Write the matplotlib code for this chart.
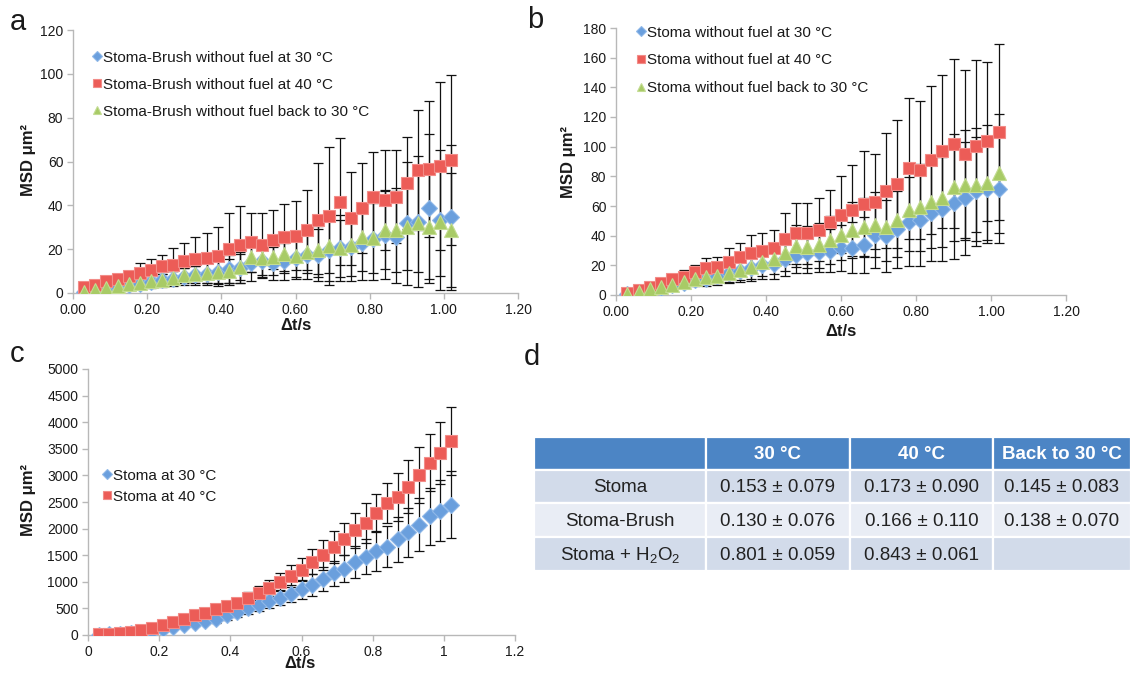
import matplotlib
matplotlib.use('Agg')
import matplotlib.pyplot as plt
from matplotlib.patches import Rectangle

plt.rcParams['font.family'] = ['Liberation Sans', 'DejaVu Sans']
plt.rcParams['mathtext.default'] = 'regular'

# ---------------- data ----------------
dt = [0.03, 0.06, 0.09, 0.12, 0.15, 0.18, 0.21, 0.24, 0.27, 0.30, 0.33, 0.36,
      0.39, 0.42, 0.45, 0.48, 0.51, 0.54, 0.57, 0.60, 0.63, 0.66, 0.69, 0.72,
      0.75, 0.78, 0.81, 0.84, 0.87, 0.90, 0.93, 0.96, 0.99, 1.02]

# panel a: Stoma-Brush
a_30 = [0.5, 1.2, 2.0, 2.8, 3.5, 4.3, 5.0, 5.8, 6.5, 7.5, 8.0, 8.6, 9.5, 11.0,
        11.5, 13.8, 14.5, 13.5, 14.5, 16.0, 17.4, 17.4, 19.6, 20.4, 21.0, 23.0,
        24.5, 26.5, 25.7, 31.8, 32.6, 38.7, 33.3, 34.5]
a_40 = [2.7, 3.8, 5.3, 6.4, 7.6, 9.1, 10.3, 12.2, 12.9, 14.4, 15.5, 16.0, 16.7,
        20.0, 22.0, 23.1, 22.0, 24.3, 25.5, 26.2, 28.8, 33.3, 35.2, 41.7, 34.1,
        38.7, 43.7, 42.5, 44.0, 50.4, 56.2, 56.5, 58.1, 60.7]
a_back = [0.5, 1.5, 2.5, 3.0, 4.0, 4.5, 5.5, 6.0, 7.0, 8.0, 8.5, 9.0, 9.5, 10.0,
          12.0, 16.5, 16.0, 16.5, 18.0, 16.7, 18.9, 19.6, 21.5, 20.4, 21.9, 25.7,
          25.0, 28.8, 28.8, 30.3, 31.8, 30.3, 32.6, 28.8]
a_30_sd = [0.3, 0.6, 1.0, 1.4, 1.8, 2.2, 2.6, 3.0, 3.5, 4.0, 4.5, 5.0, 5.5, 6.5,
           7.0, 8.5, 7.5, 7.5, 8.5, 9.5, 11.0, 12.0, 14.0, 15.0, 15.5, 17.0,
           18.5, 20.0, 21.0, 28.0, 30.0, 34.0, 32.0, 33.0]
a_40_sd = [0.6, 1.0, 1.5, 2.0, 2.4, 4.6, 5.2, 5.3, 7.6, 8.4, 10.0, 11.4, 13.3,
           16.5, 17.5, 13.4, 14.5, 13.4, 15.3, 15.6, 18.2, 26.0, 31.6, 29.0,
           21.3, 20.5, 20.8, 22.8, 21.3, 21.0, 27.4, 31.0, 38.4, 38.8]
a_back_sd = [0.3, 0.6, 1.0, 1.3, 1.7, 2.0, 2.4, 2.8, 3.2, 3.6, 4.0, 4.5, 5.0,
             5.5, 6.0, 7.0, 8.0, 8.5, 9.0, 9.5, 10.0, 11.0, 12.5, 13.0, 14.0,
             15.5, 16.0, 18.0, 19.0, 20.0, 22.0, 24.0, 25.0, 26.0]

# panel b: Stoma
b_30 = [0.8, 2.0, 3.5, 5.0, 6.5, 8.0, 10.0, 11.0, 12.5, 14.5, 16.5, 18.0, 20.0,
        21.0, 24.5, 27.0, 28.0, 29.0, 30.0, 31.5, 32.0, 33.7, 40.5, 39.8, 44.3,
        49.5, 50.6, 55.6, 57.8, 62.3, 65.3, 69.8, 71.3, 71.3]
b_40 = [1.6, 3.4, 5.6, 7.9, 10.6, 12.4, 15.8, 18.0, 19.0, 22.5, 25.4, 28.0, 30.0,
        31.5, 38.0, 41.6, 41.6, 44.0, 49.5, 54.0, 57.0, 61.4, 63.0, 70.4, 74.7,
        85.5, 84.0, 91.0, 96.8, 102.0, 95.0, 100.6, 103.5, 110.0]
b_back = [0.8, 2.3, 4.0, 5.5, 7.0, 8.5, 10.5, 12.0, 13.0, 15.0, 17.0, 19.0, 22.0,
          24.0, 28.5, 33.0, 32.5, 33.5, 37.0, 40.5, 43.9, 45.7, 47.3, 46.0, 50.6,
          57.4, 59.0, 63.0, 65.3, 72.7, 74.3, 74.3, 75.8, 82.0]
b_30_sd = [0.4, 1.0, 1.6, 2.2, 2.8, 3.4, 4.2, 4.8, 5.5, 6.5, 7.5, 8.5, 9.0, 10.0,
           11.5, 12.5, 13.0, 13.5, 14.5, 15.5, 17.0, 19.0, 22.0, 24.0, 26.0,
           30.0, 31.0, 33.0, 35.0, 38.0, 38.0, 37.0, 36.0, 36.0]
b_40_sd = [0.5, 1.0, 1.5, 2.0, 3.0, 4.5, 4.2, 6.8, 6.4, 9.0, 9.6, 12.5, 12.0,
           12.5, 17.0, 20.7, 20.7, 21.3, 21.4, 26.0, 30.8, 35.4, 32.0, 38.6,
           43.3, 47.5, 46.5, 50.0, 51.7, 57.0, 56.4, 58.0, 53.3, 59.2]
b_back_sd = [0.4, 1.0, 1.6, 2.2, 2.8, 3.4, 4.0, 4.5, 5.0, 6.0, 7.0, 8.0, 9.0,
             10.0, 12.0, 14.0, 14.0, 15.0, 16.0, 17.0, 19.0, 20.0, 22.0, 23.0,
             25.0, 28.0, 29.0, 31.0, 33.0, 36.0, 37.0, 38.0, 39.0, 40.0]

# panel c: Stoma (with fuel)
c_30 = [5, 10, 20, 35, 55, 80, 110, 150, 190, 230, 270, 300, 370, 430, 500, 560,
        640, 700, 780, 860, 940, 1050, 1160, 1250, 1380, 1470, 1570, 1660, 1800,
        1930, 2070, 2230, 2340, 2450]
c_40 = [20, 25, 35, 60, 90, 140, 185, 250, 310, 370, 420, 480, 540, 600, 690, 790,
        880, 990, 1110, 1230, 1380, 1500, 1660, 1800, 1970, 2100, 2300, 2480,
        2600, 2790, 3010, 3240, 3420, 3650]
c_30_sd = [3, 5, 8, 12, 18, 25, 30, 40, 45, 55, 60, 70, 80, 90, 100, 110, 125,
           140, 160, 180, 200, 220, 240, 260, 300, 330, 360, 390, 420, 460, 500,
           540, 580, 630]
c_40_sd = [5, 8, 10, 15, 20, 25, 30, 40, 45, 55, 60, 70, 80, 90, 110, 130, 150,
           170, 200, 220, 232, 282, 301, 301, 327, 376, 351, 377, 451, 502, 533,
           539, 578, 640]

a_labels = ['Stoma-Brush without fuel at 30 °C', 'Stoma-Brush without fuel at 40 °C',
            'Stoma-Brush without fuel back to 30 °C']
b_labels = ['Stoma without fuel at 30 °C', 'Stoma without fuel at 40 °C',
            'Stoma without fuel back to 30 °C']
c_labels = ['Stoma at 30 °C', 'Stoma at 40 °C']

ab_xticks = [0.0, 0.2, 0.4, 0.6, 0.8, 1.0, 1.2]
ab_xticklabels = ['0.00', '0.20', '0.40', '0.60', '0.80', '1.00', '1.20']
a_yticks = [0, 20, 40, 60, 80, 100, 120]
b_yticks = [0, 20, 40, 60, 80, 100, 120, 140, 160, 180]
c_xticks = [0, 0.2, 0.4, 0.6, 0.8, 1.0, 1.2]
c_xticklabels = ['0', '0.2', '0.4', '0.6', '0.8', '1', '1.2']
c_yticks = [0, 500, 1000, 1500, 2000, 2500, 3000, 3500, 4000, 4500, 5000]

table_header = ['', '30 °C', '40 °C', 'Back to 30 °C']
table_rows = ['Stoma', 'Stoma-Brush', 'Stoma + H$_2$O$_2$']
table_cells = [['0.153 ± 0.079', '0.173 ± 0.090', '0.145 ± 0.083'],
               ['0.130 ± 0.076', '0.166 ± 0.110', '0.138 ± 0.070'],
               ['0.801 ± 0.059', '0.843 ± 0.061', '']]

# ---------------- styling ----------------
BLUE = dict(marker='D', ms=8.5, mfc='#6a9fdd', mec='#8fb8e8', mew=0.8)
RED = dict(marker='s', ms=8.3, mfc='#ec5c57', mec='#f28c88', mew=0.8)
GREEN = dict(marker='^', ms=9.5, mfc='#a8cb66', mec='#c3dc92', mew=0.8)
SPINE = '#b8b8b8'
TXT = '#1a1a1a'

W, H = 1133, 683
fig = plt.figure(figsize=(W / 100, H / 100), dpi=100)


def px_axes(l, t, r, b):
    return fig.add_axes([l / W, 1 - b / H, (r - l) / W, (b - t) / H])


def style(ax):
    for s in ['top', 'right']:
        ax.spines[s].set_visible(False)
    for s in ['left', 'bottom']:
        ax.spines[s].set_color(SPINE)
        ax.spines[s].set_linewidth(1.0)
    ax.tick_params(direction='out', length=4, width=1.0, color=SPINE,
                   labelsize=10, labelcolor=TXT, pad=3)


def draw_series(ax, ys, sds, styles, labels):
    for y, sd in zip(ys, sds):
        ax.errorbar(dt, y, yerr=sd, fmt='none', ecolor='#111111',
                    elinewidth=0.9, capsize=3.4, capthick=0.9, zorder=2)
    handles = []
    for y, st, lab in zip(ys, styles, labels):
        h, = ax.plot(dt, y, ls='none', zorder=3, label=lab, **st)
        handles.append(h)
    return handles


def fig_text(x, y, s, **kw):
    fig.text(x / W, 1 - y / H, s, **kw)


leg_kw = dict(bbox_transform=fig.transFigure, frameon=False, fontsize=11,
              borderpad=0, handlelength=0.5, handletextpad=0.12,
              markerscale=0.62, labelcolor=TXT, loc='upper left')

# panel a
ax_a = px_axes(73, 30, 518, 293)
style(ax_a)
ha = draw_series(ax_a, [a_30, a_40, a_back], [a_30_sd, a_40_sd, a_back_sd],
                 [BLUE, RED, GREEN], a_labels)
ax_a.set_xlim(0, 1.2)
ax_a.set_ylim(0, 120)
ax_a.set_xticks(ab_xticks)
ax_a.set_xticklabels(ab_xticklabels)
ax_a.set_yticks(a_yticks)
ax_a.legend(handles=ha, bbox_to_anchor=(86 / W, 1 - 43 / H),
            labelspacing=0.85, **leg_kw)

# panel b
ax_b = px_axes(616, 28, 1066, 295)
style(ax_b)
hb = draw_series(ax_b, [b_30, b_40, b_back], [b_30_sd, b_40_sd, b_back_sd],
                 [BLUE, RED, GREEN], b_labels)
ax_b.set_xlim(0, 1.2)
ax_b.set_ylim(0, 180)
ax_b.set_xticks(ab_xticks)
ax_b.set_xticklabels(ab_xticklabels)
ax_b.set_yticks(b_yticks)
ax_b.legend(handles=hb, bbox_to_anchor=(630 / W, 1 - 18 / H),
            labelspacing=0.9, **leg_kw)

# panel c
ax_c = px_axes(88, 369, 515, 635)
style(ax_c)
hc = draw_series(ax_c, [c_30, c_40], [c_30_sd, c_40_sd], [BLUE, RED], c_labels)
ax_c.set_xlim(0, 1.2)
ax_c.set_ylim(0, 5000)
ax_c.set_xticks(c_xticks)
ax_c.set_xticklabels(c_xticklabels)
ax_c.set_yticks(c_yticks)
ax_c.legend(handles=hc, bbox_to_anchor=(96 / W, 1 - 461 / H),
            labelspacing=0.45, **leg_kw)

# axis labels
lab_kw = dict(fontsize=12, fontweight='bold', color=TXT, ha='center', va='center')
fig_text(28, 160, 'MSD μm²', rotation=90, **lab_kw)
fig_text(296, 325, 'Δt/s', **lab_kw)
fig_text(568, 162, 'MSD μm²', rotation=90, **lab_kw)
fig_text(841, 331, 'Δt/s', **lab_kw)
fig_text(28, 500, 'MSD μm²', rotation=90, **lab_kw)
fig_text(300, 664, 'Δt/s', **lab_kw)

# panel letters
let_kw = dict(fontsize=21, color=TXT, ha='center', va='center')
fig_text(18, 22, 'a', **let_kw)
fig_text(535, 20, 'b', **let_kw)
fig_text(17, 354, 'c', **let_kw)
fig_text(532, 357, 'd', **let_kw)

# table d
tax = px_axes(534, 437, 1131, 571)
tax.set_xlim(534, 1131)
tax.set_ylim(571, 437)
tax.axis('off')
col_edges = [534, 706, 850, 993, 1131]
row_edges = [437, 470, 503, 537, 571]
row_fill = ['#4c85c5', '#d2dbea', '#e9edf5', '#d2dbea']
for r in range(4):
    for c in range(4):
        x0, x1 = col_edges[c], col_edges[c + 1]
        y0, y1 = row_edges[r], row_edges[r + 1]
        tax.add_patch(Rectangle((x0, y0), x1 - x0, y1 - y0, facecolor=row_fill[r],
                                edgecolor='white', linewidth=1.6))
        if r == 0:
            s = table_header[c]
            kw = dict(color='white', fontweight='bold')
        elif c == 0:
            s = table_rows[r - 1]
            kw = dict(color='#222222')
        else:
            s = table_cells[r - 1][c - 1]
            kw = dict(color='#222222')
        tax.text((x0 + x1) / 2, (y0 + y1) / 2 + 1, s, ha='center', va='center',
                 fontsize=13.5, **kw)

fig.savefig('out.png', dpi=100)
